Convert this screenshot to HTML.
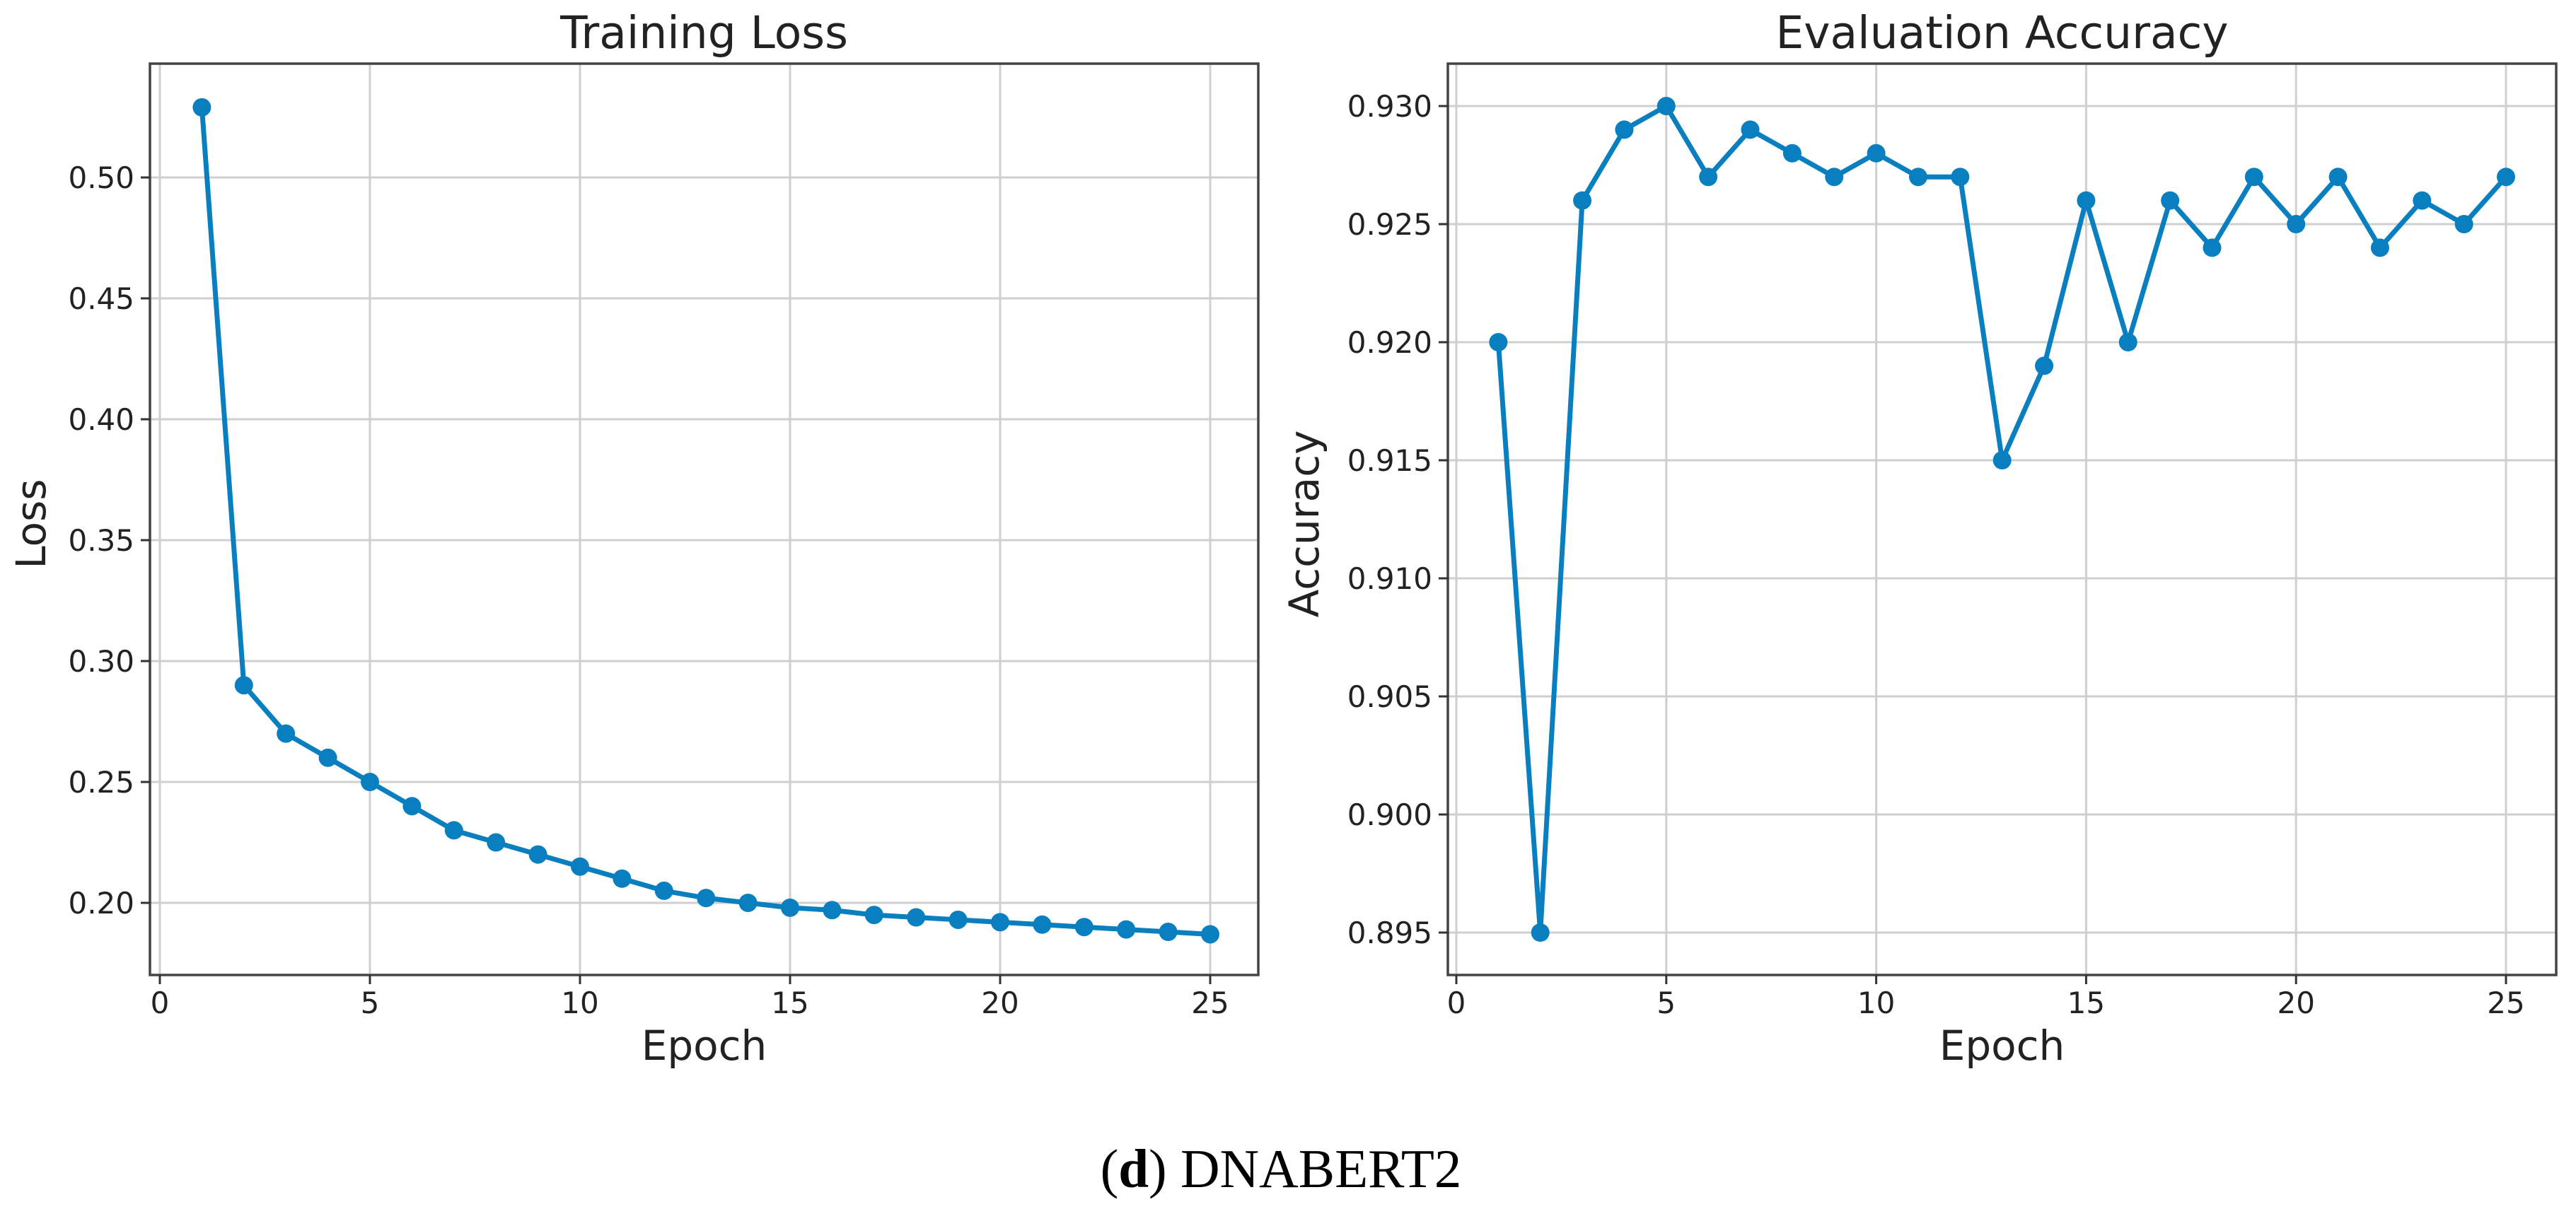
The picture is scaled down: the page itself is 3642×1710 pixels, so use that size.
<!DOCTYPE html>
<html><head><meta charset="utf-8">
<style>
html,body{margin:0;padding:0;background:#fff;}
svg{display:block;}
text{font-family:"DejaVu Sans","Liberation Sans",sans-serif;fill:#222;}
</style></head>
<body>
<svg id="fig" width="3642" height="1710" viewBox="0 0 3642 1710" xmlns="http://www.w3.org/2000/svg">
<rect width="3642" height="1710" fill="#fff"/>
<g id="left"></g>
<g id="right"></g>
<text x="1811" y="1679" text-anchor="middle" style="font-family:'Liberation Serif',serif;font-size:77px;fill:#000">(<tspan font-weight="bold">d</tspan>) DNABERT2</text>
</svg>
<script>
const epochs = [1,2,3,4,5,6,7,8,9,10,11,12,13,14,15,16,17,18,19,20,21,22,23,24,25];
const lossValues = [0.529,0.29,0.27,0.26,0.25,0.24,0.23,0.225,0.22,0.215,0.21,0.205,0.202,0.20,0.198,0.197,0.195,0.194,0.193,0.192,0.191,0.190,0.189,0.188,0.187];
const accValues = [0.920,0.895,0.926,0.929,0.930,0.927,0.929,0.928,0.927,0.928,0.927,0.927,0.915,0.919,0.926,0.920,0.926,0.924,0.927,0.925,0.927,0.924,0.926,0.925,0.927];
const xTicks = [0,5,10,15,20,25];
const lossTicks = [0.20,0.25,0.30,0.35,0.40,0.45,0.50];
const accTicks = [0.895,0.900,0.905,0.910,0.915,0.920,0.925,0.930];

const NS = "http://www.w3.org/2000/svg";
function mk(parent, tag, attrs, txt){
  const e = document.createElementNS(NS, tag);
  for (const k in attrs) e.setAttribute(k, attrs[k]);
  if (txt !== undefined) e.textContent = txt;
  parent.appendChild(e);
  return e;
}

function drawChart(g, cfg){
  const xS = v => cfg.x0 + (v - 0) * cfg.xStep;
  const yS = v => cfg.yRef + (cfg.vRef - v) * cfg.yPer;
  // grid
  xTicks.forEach(t => {
    const l = mk(g, 'line', {x1:xS(t), x2:xS(t), y1:cfg.top, y2:cfg.bottom, stroke:'#cfcfcf', 'stroke-width':3});
    
    
  });
  cfg.yTicks.forEach(t => {
    const l = mk(g, 'line', {x1:cfg.left, x2:cfg.right, y1:yS(t), y2:yS(t), stroke:'#cfcfcf', 'stroke-width':3});
    
    
  });
  // axes frame
  const fr = mk(g, 'rect', {x:cfg.left, y:cfg.top, width:cfg.right-cfg.left, height:cfg.bottom-cfg.top, fill:'none', stroke:'#444', 'stroke-width':3.5});
  
  
  // x ticks
  xTicks.forEach(t => {
    mk(g, 'line', {x1:xS(t), x2:xS(t), y1:cfg.bottom, y2:cfg.bottom+13, stroke:'#333', 'stroke-width':3});
    const tx = mk(g, 'text', {x:xS(t), y:1433, 'text-anchor':'middle', 'font-size':42}, String(t));
    
    
  });
  cfg.yTicks.forEach(t => {
    mk(g, 'line', {x1:cfg.left-13, x2:cfg.left, y1:yS(t), y2:yS(t), stroke:'#333', 'stroke-width':3});
    const tx = mk(g, 'text', {x:cfg.left-22, y:yS(t)+15, 'text-anchor':'end', 'font-size':42}, t.toFixed(cfg.dec));
    
    
  });
  // line
  const pts = epochs.map((e,i) => xS(e)+','+yS(cfg.values[i])).join(' ');
  const pl = mk(g, 'polyline', {points:pts, fill:'none', stroke:'#0a7fbf', 'stroke-width':7, 'stroke-linejoin':'round'});
  
  
  epochs.forEach((e,i) => {
    const c = mk(g, 'circle', {cx:xS(e), cy:yS(cfg.values[i]), r:13, fill:'#0a7fbf'});
    
    
  });
  const ti = mk(g, 'text', {x:(cfg.left+cfg.right)/2, y:68, 'text-anchor':'middle', 'font-size':63}, cfg.title);
  
  
  const xl = mk(g, 'text', {x:(cfg.left+cfg.right)/2, y:1499, 'text-anchor':'middle', 'font-size':58}, 'Epoch');
  
  
  const yl = mk(g, 'text', {x:0, y:0, 'text-anchor':'middle', 'font-size':58, transform:'translate('+(cfg.ylabX)+',741) rotate(-90)'}, cfg.ylabel);
  
  
}

drawChart(document.getElementById('left'), {
  left:212, right:1779, top:90, bottom:1379, x0:226, xStep:59.4,
  yRef:251, vRef:0.50, yPer:171/0.05, yTicks:lossTicks, dec:2,
  values:lossValues, title:'Training Loss', ylabel:'Loss', ylabX:64
});
drawChart(document.getElementById('right'), {
  left:2047, right:3614, top:90, bottom:1379, x0:2059, xStep:59.36,
  yRef:150, vRef:0.930, yPer:167/0.005, yTicks:accTicks, dec:3,
  values:accValues, title:'Evaluation Accuracy', ylabel:'Accuracy', ylabX:1864
});
</script>
</body></html>
